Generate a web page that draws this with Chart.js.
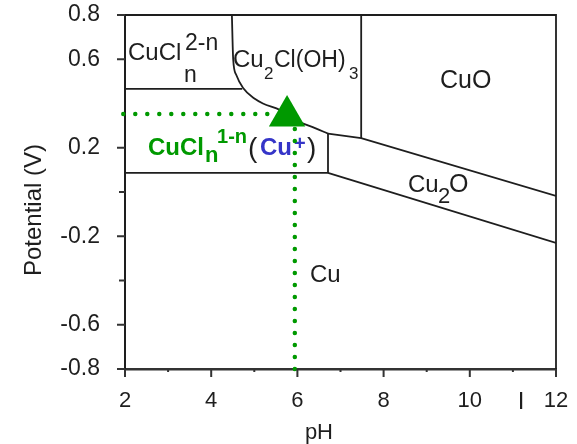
<!DOCTYPE html>
<html lang="en">
<head>
<meta charset="UTF-8" />
<title>Cu-Cl Pourbaix diagram</title>
<script src="https://cdn.jsdelivr.net/npm/chart.js"></script>
<style>
  body { margin: 0; background: #fff; }
  #wrap { width: 577px; height: 444px; }
</style>
</head>
<body>
<div id="wrap"><canvas id="pourbaix" width="577" height="444"></canvas></div>
<script>
// axis ranges and ticks
const phRange = [2, 12];
const potentialRange = [-0.8, 0.8];
const phTickLabels = [2, 4, 6, 8, 10, 12];
const phMinorTicks = [3, 5, 7, 9, 11];
const potentialTickLabels = [0.8, 0.6, 0.2, -0.2, -0.6, -0.8];
const potentialMinorTicks = [0, -0.4];

// phase boundaries, [pH, E] pairs
const cuclUpperEdge = [[2, 0.466], [4.72, 0.466]];
const hydroxyChlorideEdge = [[4.48, 0.8], [4.51, 0.6], [4.58, 0.53], [4.74, 0.47], [5.02, 0.42],
  [5.2, 0.4], [5.6, 0.37], [6.06, 0.316], [6.41, 0.289], [6.71, 0.264]];
const cuclLowerEdge = [[2, 0.086], [6.71, 0.086]];
const cuclRightEdge = [[6.71, 0.264], [6.71, 0.086]];
const cuoLeftEdge = [[7.48, 0.8], [7.48, 0.244]];
const cu2oUpperEdge = [[6.71, 0.264], [7.48, 0.244], [12, -0.018]];
const cu2oLowerEdge = [[6.71, 0.086], [12, -0.23]];

// marked condition and its guide lines
const markedPoint = [[5.76, 0.343]];
const guideHorizontal = [[1.96, 0.353], [5.33, 0.353]];
const guideVertical = [[5.94, -0.8], [5.94, 0.3]];

const GREEN = '#009900';
const BLUE = '#3535c8';
const INK = '#1e1e1e';
const FONT = '"Liberation Sans", Arial, Helvetica, sans-serif';

// region names: anchor in [pH, E], parts offset in px from it
const regionLabels = [
  { at: [2.07, 0.597], parts: [
    { t: 'CuCl', dx: 0, dy: 0 },
    { t: '2-n', dx: 57, dy: -10, size: 23 },
    { t: 'n', dx: 56, dy: 22, size: 23 } ] },
  { at: [4.506, 0.565], parts: [
    { t: 'Cu', dx: 0, dy: 0, size: 24 },
    { t: '2', dx: 31, dy: 12, size: 17 },
    { t: 'Cl(OH)', dx: 41, dy: 0, size: 23 },
    { t: '3', dx: 116, dy: 12, size: 17 } ] },
  { at: [9.31, 0.47], parts: [{ t: 'CuO', dx: 0, dy: 0, size: 25 }] },
  { at: [8.566, 0.0], parts: [
    { t: 'Cu', dx: 0, dy: 0, size: 24 },
    { t: '2', dx: 30, dy: 11, size: 22 },
    { t: 'O', dx: 41, dy: 0, size: 25 } ] },
  { at: [6.29, -0.407], parts: [{ t: 'Cu', dx: 0, dy: 0 }] },
  { at: [2.534, 0.167], parts: [
    { t: 'CuCl', dx: 0, dy: 0, bold: true, color: GREEN },
    { t: 'n', dx: 57, dy: 7, size: 22, bold: true, color: GREEN },
    { t: '1-n', dx: 69, dy: -12, size: 20, bold: true, color: GREEN },
    { t: '(', dx: 100, dy: 2, size: 28 },
    { t: 'Cu', dx: 112, dy: 0, bold: true, color: BLUE },
    { t: '+', dx: 146, dy: -5, size: 20, bold: true, color: BLUE },
    { t: ')', dx: 159, dy: 2, size: 28 } ] }
];

const pts = arr => arr.map(p => ({ x: p[0], y: p[1] }));

function boundary(arr, extra) {
  return Object.assign({
    data: pts(arr),
    showLine: true,
    pointRadius: 0,
    borderColor: INK,
    borderWidth: 1.8,
    fill: false
  }, extra || {});
}

function guide(arr) {
  return {
    data: pts(arr),
    showLine: true,
    pointRadius: 0,
    borderColor: GREEN,
    borderWidth: 4.5,
    borderDash: [0, 12],
    borderCapStyle: 'round',
    clip: false
  };
}

const diagramExtras = {
  id: 'diagramExtras',
  beforeDatasetsDraw(chart) {
    const { ctx, scales: { x, y } } = chart;
    ctx.save();
    ctx.textAlign = 'left';
    ctx.textBaseline = 'alphabetic';
    regionLabels.forEach(lab => {
      const x0 = x.getPixelForValue(lab.at[0]);
      const y0 = y.getPixelForValue(lab.at[1]);
      lab.parts.forEach(p => {
        ctx.font = (p.bold ? 'bold ' : '') + (p.size || 24) + 'px ' + FONT;
        ctx.fillStyle = p.color || INK;
        ctx.fillText(p.t, x0 + p.dx, y0 + p.dy);
      });
    });
    ctx.restore();
  },
  afterDraw(chart) {
    const { ctx, chartArea: a, scales: { x, y } } = chart;
    ctx.save();
    // top and right of the frame
    ctx.strokeStyle = INK;
    ctx.lineWidth = 1.8;
    ctx.beginPath();
    ctx.moveTo(a.left, a.top);
    ctx.lineTo(a.right, a.top);
    ctx.lineTo(a.right, a.bottom);
    ctx.stroke();

    // tick marks
    ctx.strokeStyle = '#333';
    ctx.lineWidth = 2;
    ctx.beginPath();
    phTickLabels.forEach(v => { const p = x.getPixelForValue(v); ctx.moveTo(p, a.bottom); ctx.lineTo(p, a.bottom + 8); });
    phMinorTicks.forEach(v => { const p = x.getPixelForValue(v); ctx.moveTo(p, a.bottom); ctx.lineTo(p, a.bottom + 3); });
    potentialTickLabels.forEach(v => { const p = y.getPixelForValue(v); ctx.moveTo(a.left, p); ctx.lineTo(a.left - 8, p); });
    potentialMinorTicks.forEach(v => { const p = y.getPixelForValue(v); ctx.moveTo(a.left, p); ctx.lineTo(a.left - 6, p); });
    ctx.stroke();

    // axis titles
    ctx.fillStyle = INK;
    ctx.font = '22px ' + FONT;
    ctx.textAlign = 'center';
    ctx.textBaseline = 'alphabetic';
    ctx.fillText('pH', x.getPixelForValue(6.5), 439);
    ctx.font = '24px ' + FONT;
    ctx.fillText('I', 521, 409);
    ctx.translate(41, (a.top + a.bottom) / 2 + 18);
    ctx.rotate(-Math.PI / 2);
    ctx.font = '24px ' + FONT;
    ctx.fillText('Potential (V)', 0, 0);
    ctx.restore();
  }
};

new Chart(document.getElementById('pourbaix'), {
  type: 'scatter',
  data: {
    datasets: [
      { data: pts(markedPoint), pointStyle: 'triangle', pointRadius: 21, backgroundColor: GREEN, borderColor: GREEN, borderWidth: 0 },
      guide(guideHorizontal),
      guide(guideVertical),
      boundary(cuclUpperEdge),
      boundary(hydroxyChlorideEdge, { cubicInterpolationMode: 'monotone' }),
      boundary(cuclLowerEdge),
      boundary(cuclRightEdge),
      boundary(cuoLeftEdge),
      boundary(cu2oUpperEdge),
      boundary(cu2oLowerEdge)
    ]
  },
  options: {
    responsive: false,
    animation: false,
    layout: { autoPadding: false, padding: { top: 15, right: 21, left: 0, bottom: 0 } },
    plugins: { legend: { display: false }, tooltip: { enabled: false } },
    scales: {
      x: {
        type: 'linear',
        min: phRange[0],
        max: phRange[1],
        afterBuildTicks: s => { s.ticks = phTickLabels.map(v => ({ value: v })); },
        afterFit: s => { s.height = 75; s.paddingLeft = 0; s.paddingRight = 0; },
        ticks: { callback: v => String(v), padding: 19, maxRotation: 0, autoSkip: false,
          color: INK, font: { family: FONT, size: 22 } },
        grid: { display: true, drawOnChartArea: false, drawTicks: false },
        border: { display: true, color: '#333', width: 2.5 }
      },
      y: {
        type: 'linear',
        min: potentialRange[0],
        max: potentialRange[1],
        afterBuildTicks: s => { s.ticks = potentialTickLabels.map(v => ({ value: v })); },
        afterFit: s => { s.width = 125; s.paddingTop = 0; s.paddingBottom = 0; },
        ticks: { callback: v => String(v), padding: 25, autoSkip: false,
          color: INK, font: { family: FONT, size: 23 } },
        grid: { display: true, drawOnChartArea: false, drawTicks: false },
        border: { display: true, color: INK, width: 2 }
      }
    }
  },
  plugins: [diagramExtras]
});
</script>
</body>
</html>
